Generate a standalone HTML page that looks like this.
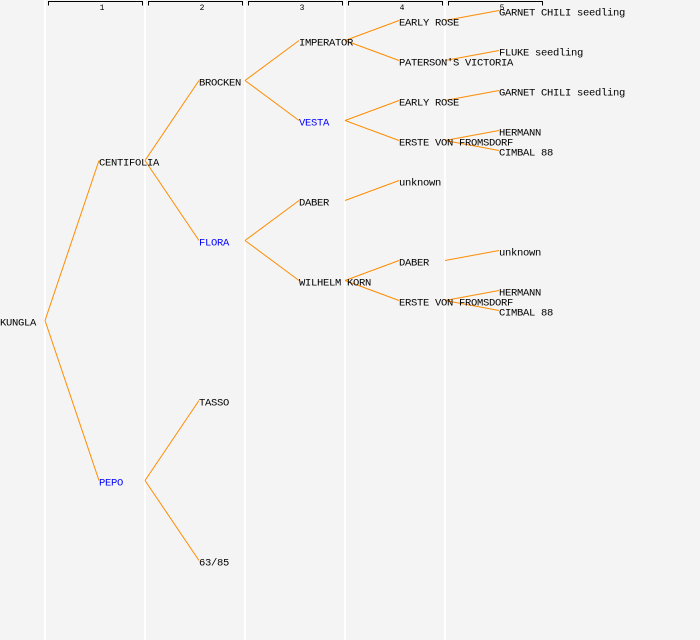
<!DOCTYPE html>
<html><head><meta charset="utf-8"><style>
html,body{margin:0;padding:0;background:#f4f4f4;}
svg{display:block;}
text{font-family:"Liberation Mono",monospace;font-size:10.5px;letter-spacing:-0.3px;fill:#000;}
.b{fill:#0000ff;}
.h{font-size:8px;letter-spacing:0;text-anchor:middle;}
line.e{stroke:#ff8c00;stroke-width:1;}
</style></head><body>
<svg width="700" height="640" xmlns="http://www.w3.org/2000/svg">
<rect width="700" height="640" fill="#f4f4f4"/>
<g stroke="#ffffff" stroke-width="2">
<line x1="45" y1="0" x2="45" y2="640"/><line x1="145" y1="0" x2="145" y2="640"/><line x1="245" y1="0" x2="245" y2="640"/><line x1="345" y1="0" x2="345" y2="640"/><line x1="445" y1="0" x2="445" y2="640"/>
</g>
<g stroke="#000" fill="none" stroke-width="1">
<path d="M48.5 5.5V1.5H142.5V5.5"/><path d="M148.5 5.5V1.5H242.5V5.5"/><path d="M248.5 5.5V1.5H342.5V5.5"/><path d="M348.5 5.5V1.5H442.5V5.5"/><path d="M448.5 5.5V1.5H542.5V5.5"/>
</g>
<text class="h" x="102" y="10">1</text><text class="h" x="202" y="10">2</text><text class="h" x="302" y="10">3</text><text class="h" x="402" y="10">4</text><text class="h" x="502" y="10">5</text>
<g>
<line class="e" x1="45" y1="320.5" x2="99" y2="160.5"/><line class="e" x1="45" y1="320.5" x2="99" y2="480.5"/>
<line class="e" x1="145" y1="160.5" x2="199" y2="80.5"/><line class="e" x1="145" y1="160.5" x2="199" y2="240.5"/>
<line class="e" x1="145" y1="480.5" x2="199" y2="400.5"/><line class="e" x1="145" y1="480.5" x2="199" y2="560.5"/>
<line class="e" x1="245" y1="80.5" x2="299" y2="40.5"/><line class="e" x1="245" y1="80.5" x2="299" y2="120.5"/>
<line class="e" x1="245" y1="240.5" x2="299" y2="200.5"/><line class="e" x1="245" y1="240.5" x2="299" y2="280.5"/>
<line class="e" x1="345" y1="40.5" x2="399" y2="20.5"/><line class="e" x1="345" y1="40.5" x2="399" y2="60.5"/>
<line class="e" x1="345" y1="120.5" x2="399" y2="100.5"/><line class="e" x1="345" y1="120.5" x2="399" y2="140.5"/>
<line class="e" x1="345" y1="200.5" x2="399" y2="180.5"/>
<line class="e" x1="345" y1="280.5" x2="399" y2="260.5"/><line class="e" x1="345" y1="280.5" x2="399" y2="300.5"/>
<line class="e" x1="445" y1="20.5" x2="499" y2="10.5"/><line class="e" x1="445" y1="60.5" x2="499" y2="50.5"/>
<line class="e" x1="445" y1="100.5" x2="499" y2="90.5"/>
<line class="e" x1="445" y1="140.5" x2="499" y2="130.5"/><line class="e" x1="445" y1="140.5" x2="499" y2="150.5"/>
<line class="e" x1="445" y1="260.5" x2="499" y2="250.5"/>
<line class="e" x1="445" y1="300.5" x2="499" y2="290.5"/><line class="e" x1="445" y1="300.5" x2="499" y2="310.5"/>
</g>
<text x="0" y="325.5">KUNGLA</text>
<text x="99" y="165.5">CENTIFOLIA</text><text class="b" x="99" y="485.5">PEPO</text>
<text x="199" y="85.5">BROCKEN</text><text class="b" x="199" y="245.5">FLORA</text><text x="199" y="405.5">TASSO</text><text x="199" y="565.5">63/85</text>
<text x="299" y="45.5">IMPERATOR</text><text class="b" x="299" y="125.5">VESTA</text><text x="299" y="205.5">DABER</text><text x="299" y="285.5">WILHELM KORN</text>
<text x="399" y="25.5">EARLY ROSE</text><text x="399" y="65.5">PATERSON'S VICTORIA</text><text x="399" y="105.5">EARLY ROSE</text><text x="399" y="145.5">ERSTE VON FROMSDORF</text><text x="399" y="185.5">unknown</text><text x="399" y="265.5">DABER</text><text x="399" y="305.5">ERSTE VON FROMSDORF</text>
<text x="499" y="15.5">GARNET CHILI seedling</text><text x="499" y="55.5">FLUKE seedling</text><text x="499" y="95.5">GARNET CHILI seedling</text><text x="499" y="135.5">HERMANN</text><text x="499" y="155.5">CIMBAL 88</text><text x="499" y="255.5">unknown</text><text x="499" y="295.5">HERMANN</text><text x="499" y="315.5">CIMBAL 88</text>
</svg>
</body></html>
